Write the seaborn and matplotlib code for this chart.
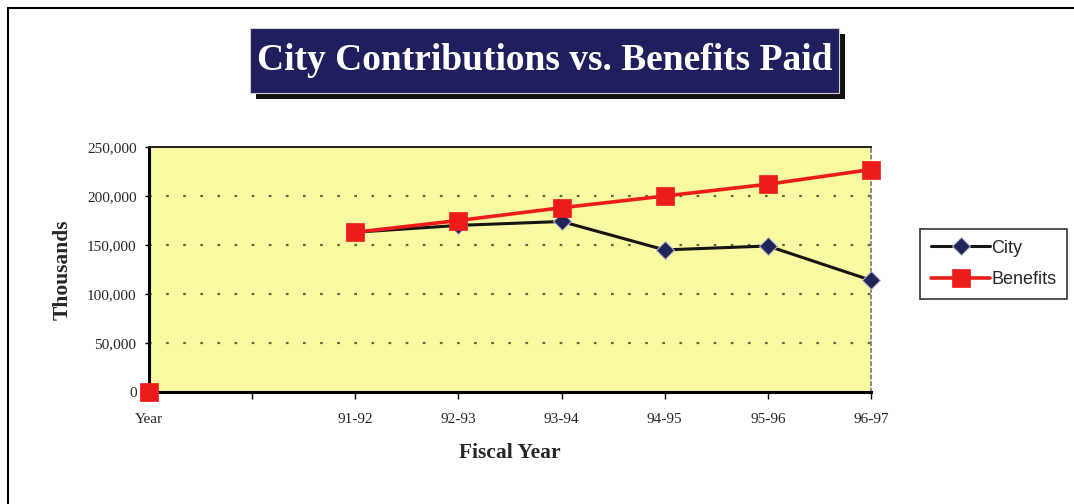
import numpy as np
import pandas as pd
import matplotlib
matplotlib.use("Agg")
import matplotlib.pyplot as plt
import seaborn as sns
from matplotlib.patches import Rectangle
from matplotlib.lines import Line2D
from matplotlib.ticker import FuncFormatter

# Fiscal-year categories (the second slot is an empty spacer category)
categories = ["Year", "", "91-92", "92-93", "93-94", "94-95", "95-96", "96-97"]
city = [0, np.nan, 163000, 170000, 174000, 145000, 149000, 114000]
benefits = [0, np.nan, 163000, 175000, 188000, 200000, 212000, 227000]
y_ticks = [0, 50000, 100000, 150000, 200000, 250000]

sns.set_theme(style="white")
plt.rcParams["font.family"] = ["Liberation Serif", "DejaVu Serif"]

W, H = 1074, 504
fig = plt.figure(figsize=(W / 100, H / 100), dpi=100)
fig.patch.set_facecolor("white")


def fx(px):
    return px / W


def fy(py):
    return 1 - py / H


ax = fig.add_axes([fx(149), fy(392), fx(871) - fx(149), fy(147) - fy(392)])
ax.set_facecolor("#F9F9A2")

x_pos = np.arange(len(categories))
df = pd.DataFrame({"pos": x_pos, "City": city, "Benefits": benefits})


def runs(values):
    """Split positions into contiguous runs of present values."""
    out, cur = [], []
    for i, v in enumerate(values):
        if np.isnan(v):
            if cur:
                out.append(cur)
            cur = []
        else:
            cur.append(i)
    if cur:
        out.append(cur)
    return out


styles = {
    "City": dict(color="#151515", lw=2.2, marker="D", markersize=9.5,
                 markerfacecolor="#1F2459", markeredgecolor="#B8B8C8",
                 markeredgewidth=0.8, zorder=3),
    "Benefits": dict(color="#EE1B1B", lw=2.6, marker="s", markersize=12.5,
                     markerfacecolor="#EE1B1B", markeredgecolor="#EE1B1B",
                     markeredgewidth=0.5, zorder=4),
}

for name in ["City", "Benefits"]:
    series = df[name].to_numpy(dtype=float)
    parts = runs(series)
    # longest run carries the legend label
    main = max(parts, key=len)
    for part in parts:
        sub = df.iloc[part]
        sns.lineplot(data=sub, x="pos", y=name, ax=ax, clip_on=False,
                     label=name if part is main else None,
                     **styles[name])

ax.set_xlim(0, len(categories) - 1)
ax.set_ylim(0, 250000)
ax.set_xticks(x_pos)
ax.set_xticklabels(categories)
ax.set_yticks(y_ticks)
ax.yaxis.set_major_formatter(FuncFormatter(lambda v, p: f"{int(v):,}"))
ax.tick_params(axis="x", direction="out", length=5, width=1, color="black",
               pad=10, labelsize=11, bottom=True)
ax.tick_params(axis="y", direction="out", length=3, width=1, color="black",
               pad=6, labelsize=11, left=True)

# dotted horizontal gridlines
for yv in y_ticks[1:-1]:
    ax.axhline(yv, color="#66663A", lw=1.6, ls=(0, (1.2, 6.5)), zorder=1)

for side in ["left", "bottom"]:
    ax.spines[side].set_color("black")
    ax.spines[side].set_linewidth(2.2)
ax.spines["top"].set_color("#222222")
ax.spines["top"].set_linewidth(1.4)
ax.spines["right"].set_color("#777777")
ax.spines["right"].set_linewidth(1.2)
ax.spines["right"].set_linestyle((0, (2, 2)))

ax.set_xlabel("Fiscal Year", fontsize=15.5, fontweight="bold", labelpad=12)
ax.set_ylabel("Thousands", fontsize=15.5, fontweight="bold", labelpad=10)

leg = ax.legend(loc="center left", bbox_to_anchor=(fx(911), fy(264)),
                bbox_transform=fig.transFigure, frameon=True, fancybox=False,
                edgecolor="black", handlelength=3.3, handletextpad=0.05,
                borderpad=0.6, labelspacing=0.8,
                prop={"family": "Liberation Sans", "size": 13})
leg.get_frame().set_linewidth(1.2)

# title banner with drop shadow
fig.add_artist(Rectangle((fx(256), fy(99)), fx(845) - fx(256), fy(34) - fy(99),
                         transform=fig.transFigure, facecolor="#111111",
                         edgecolor="none", zorder=1))
fig.add_artist(Rectangle((fx(250), fy(93)), fx(839) - fx(250), fy(28) - fy(93),
                         transform=fig.transFigure, facecolor="#1F1F5E",
                         edgecolor="#CCCCCC", lw=0.8, zorder=2))
fig.text(fx(545), fy(61), "City Contributions vs. Benefits Paid",
         ha="center", va="center", color="white", fontsize=27,
         fontweight="bold", zorder=3)

# page border
fig.add_artist(Line2D([fx(8), 1], [fy(8), fy(8)], transform=fig.transFigure,
                      color="black", lw=1.5))
fig.add_artist(Line2D([fx(8), fx(8)], [0, fy(8)], transform=fig.transFigure,
                      color="black", lw=1.5))

fig.savefig("out.png", dpi=100)
